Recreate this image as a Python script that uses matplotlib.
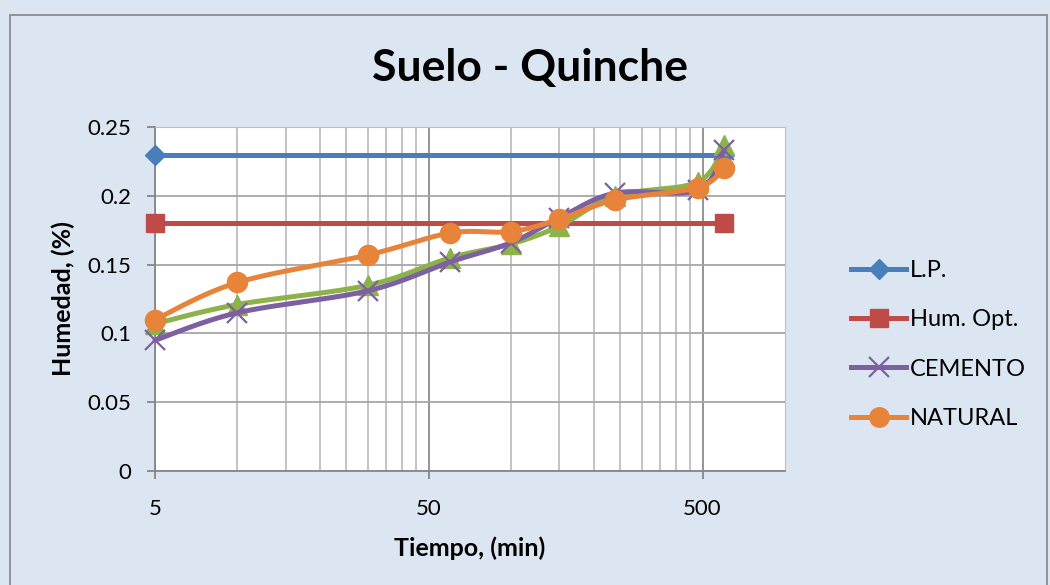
import numpy as np
import matplotlib
matplotlib.use("Agg")
import matplotlib.pyplot as plt
from matplotlib.ticker import FixedLocator, NullFormatter, FixedFormatter
from matplotlib.lines import Line2D

plt.rcParams['font.family'] = ['Lato', 'DejaVu Sans']

# ---- data ----
lp_x = [5, 600]
lp_y = [0.23, 0.23]
hum_x = [5, 600]
hum_y = [0.18, 0.18]
t_x = [5, 10, 30, 60, 100, 150, 240, 480, 600]
green_y = [0.107, 0.121, 0.135, 0.155, 0.165, 0.178, 0.200, 0.210, 0.237]
cemento_y = [0.095, 0.115, 0.131, 0.152, 0.166, 0.184, 0.202, 0.204, 0.233]
natural_y = [0.110, 0.137, 0.157, 0.173, 0.174, 0.183, 0.197, 0.206, 0.220]

x_major = [5, 50, 500]
x_minor = [10, 15, 20, 25, 30, 35, 40, 45, 100, 150, 200, 250, 300, 350, 400, 450]
y_ticks = [0, 0.05, 0.1, 0.15, 0.2, 0.25]
y_labels = ['0', '0.05', '0.1', '0.15', '0.2', '0.25']
legend_labels = ['L.P.', 'Hum. Opt.', 'CEMENTO', 'NATURAL']

BG = '#DCE6F2'
fig = plt.figure(figsize=(10.5, 5.85), dpi=100, facecolor=BG)
ax = fig.add_axes([155/1050, 1-471/585, 630/1050, 344/585])
ax.set_facecolor('white')
ax.set_xscale('log')
ax.set_xlim(5, 1000)
ax.set_ylim(0, 0.25)

# frame around chart area
fig.patches.append(plt.Rectangle((10/1050, -0.01), 1037/1050, 1-15/585+0.01,
                                 transform=fig.transFigure, fill=False,
                                 edgecolor='#8C8C8C', lw=1.3))

def smooth(xs, ys, n=30):
    """Excel-like Bezier smoothing computed in display space."""
    pts = ax.transData.transform(np.column_stack([xs, ys]))
    if len(pts) < 3:
        return xs, ys
    P = np.vstack([pts[0], pts, pts[-1]])
    out = []
    for i in range(1, len(P) - 2):
        p0, p1, p2, p3 = P[i-1], P[i], P[i+1], P[i+2]
        c1 = p1 + (p2 - p0) / 6.0
        c2 = p2 - (p3 - p1) / 6.0
        t = np.linspace(0, 1, n)[:, None]
        seg = ((1-t)**3)*p1 + 3*((1-t)**2)*t*c1 + 3*(1-t)*t**2*c2 + t**3*p2
        out.append(seg if i == 1 else seg[1:])
    out = np.vstack(out)
    d = ax.transData.inverted().transform(out)
    return d[:, 0], d[:, 1]

# grid / ticks
ax.xaxis.set_major_locator(FixedLocator(x_major))
ax.xaxis.set_minor_locator(FixedLocator(x_minor))
ax.xaxis.set_major_formatter(FixedFormatter([str(v) for v in x_major]))
ax.xaxis.set_minor_formatter(NullFormatter())
ax.yaxis.set_major_locator(FixedLocator(y_ticks))
ax.yaxis.set_major_formatter(FixedFormatter(y_labels))
ax.grid(True, which='major', axis='x', color='#8C8C8C', lw=1.3)
ax.grid(True, which='minor', axis='x', color='#BEBEBE', lw=1.3)
ax.grid(True, which='major', axis='y', color='#A6A6A6', lw=1.3)
ax.set_axisbelow(True)

for s in ['top', 'right']:
    ax.spines[s].set_color('#BFBFBF')
for s in ['left', 'bottom']:
    ax.spines[s].set_color('#868686')
    ax.spines[s].set_linewidth(1.3)
ax.tick_params(axis='both', which='major', length=6, width=1.3, color='#868686',
               labelsize=16, labelcolor='black')
ax.tick_params(axis='y', which='major', pad=11)
ax.tick_params(axis='x', which='major', pad=14)
ax.tick_params(axis='x', which='minor', length=0)

C_BLUE = '#4A7EBB'
C_RED = '#BE4B48'
C_GREEN = '#8CB24A'
C_PURPLE = '#7D60A0'
C_ORANGE = '#E8833A'
LW = 3.6

ax.plot(lp_x, lp_y, color=C_BLUE, lw=LW, marker='D', ms=10, zorder=3, clip_on=False)
ax.plot(hum_x, hum_y, color=C_RED, lw=LW, marker='s', ms=13, zorder=3, clip_on=False)

for ys, col, mk, ms, z in [(green_y, C_GREEN, '^', 14, 4),
                           (cemento_y, C_PURPLE, 'x', 14, 5),
                           (natural_y, C_ORANGE, 'o', 14.5, 6)]:
    sx, sy = smooth(t_x, ys)
    ax.plot(sx, sy, color=col, lw=LW, zorder=z, solid_capstyle='round', clip_on=False)
    if mk == 'x':
        ax.plot(t_x, ys, ls='none', marker=mk, ms=ms, mew=1.6, color=col, zorder=z, clip_on=False)
    else:
        ax.plot(t_x, ys, ls='none', marker=mk, ms=ms, color=col, zorder=z, clip_on=False)

handles = [
    Line2D([], [], color=C_BLUE, lw=LW, marker='D', ms=10),
    Line2D([], [], color=C_RED, lw=LW, marker='s', ms=13),
    Line2D([], [], color=C_PURPLE, lw=LW, marker='x', ms=14, mew=1.6),
    Line2D([], [], color=C_ORANGE, lw=LW, marker='o', ms=14),
]
fig.legend(handles, legend_labels, loc='upper left', bbox_to_anchor=(851/1050, 1-260/585),
           frameon=False, fontsize=17, handlelength=2.35, handletextpad=0.15,
           labelspacing=1.2, borderaxespad=0, borderpad=0)

ax.set_xlabel('Tiempo, (min)', fontsize=18, fontweight='bold')
ax.xaxis.set_label_coords(0.5, -(548-471)/344, transform=ax.transAxes)
ax.xaxis.label.set_va('center')
ax.set_ylabel('Humedad, (%)', fontsize=18, fontweight='bold')
ax.yaxis.set_label_coords(-(155-63)/630, 0.5, transform=ax.transAxes)
ax.yaxis.label.set_va('center')
fig.text(530/1050, 1-68/585, 'Suelo - Quinche', ha='center', va='center',
         fontsize=32, fontweight='bold')

fig.savefig('out.png', dpi=100, facecolor=BG)
